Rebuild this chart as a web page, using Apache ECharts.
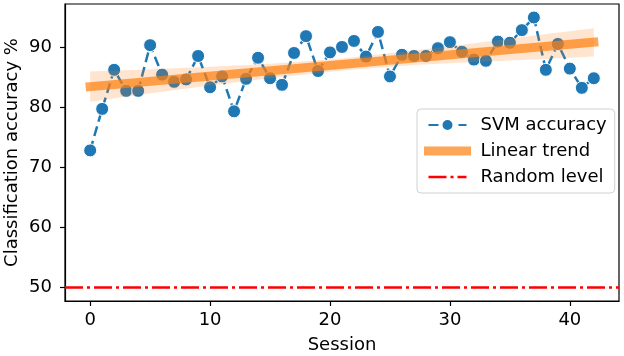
<!DOCTYPE html>
<html>
<head>
<meta charset="utf-8">
<script src="https://cdn.jsdelivr.net/npm/echarts@6/dist/echarts.min.js"></script>
<style>
html, body { margin: 0; padding: 0; background: #fff; }
#chart { width: 624px; height: 356px; }
</style>
</head>
<body>
<div id="chart"></div>
<script>
// values
var accuracy = [72.8, 79.7, 86.2, 82.7, 82.7, 90.3, 85.4, 84.2, 84.6, 88.5,
                83.3, 85.1, 79.3, 84.7, 88.2, 84.8, 83.7, 89.0, 91.8, 86.0,
                89.1, 90.0, 91.0, 88.4, 92.5, 85.1, 88.7, 88.5, 88.5, 89.8,
                90.8, 89.2, 87.9, 87.7, 90.9, 90.7, 92.8, 94.9, 86.2, 90.5,
                86.4, 83.2, 84.8];
var trendX = [0, 42];
var trendY = [83.4, 90.8];
var bandX = [0, 5, 10, 15, 21, 27, 32, 37, 42];
var bandUpper = [85.9, 86.3, 86.7, 87.2, 88.1, 89.4, 90.6, 91.9, 93.1];
var bandLower = [80.9, 82.3, 83.6, 84.8, 86.1, 87.0, 87.5, 87.9, 88.4];
var randomLevel = 50;
var xTicks = [0, 10, 20, 30, 40];
var yTicks = [50, 60, 70, 80, 90];
var xMin = -2.1, xMax = 44.1;
var yMin = 47.755, yMax = 97.145;

var font = 'DejaVu Sans';
var fs = 18;
var chart = echarts.init(document.getElementById('chart'));

var svmData = accuracy.map(function (v, i) { return [i, v]; });
var trendData = trendX.map(function (x, i) { return [x, trendY[i]]; });
var bandData = bandX.map(function (x, i) { return [x, bandLower[i], bandUpper[i]]; });

function renderBand(params, api) {
    if (params.dataIndex !== 0) return;
    var top = [], bottom = [];
    for (var i = 0; i < bandData.length; i++) {
        top.push(api.coord([bandData[i][0], bandData[i][2]]));
        bottom.unshift(api.coord([bandData[i][0], bandData[i][1]]));
    }
    return {
        type: 'polygon',
        shape: { points: top.concat(bottom) },
        style: { fill: 'rgba(255,127,14,0.2)' }
    };
}

var option = {
    animation: false,
    textStyle: { fontFamily: font },
    grid: {
        left: 65, right: 5, top: 4, bottom: 55,
        outerBoundsMode: 'none',
        show: true, borderColor: '#000', borderWidth: 1.2
    },
    xAxis: {
        type: 'value', min: xMin, max: xMax,
        name: 'Session', nameLocation: 'middle', nameGap: 35,
        nameTextStyle: { fontSize: fs, color: '#000', fontFamily: font },
        axisLine: { show: true, onZero: false, lineStyle: { color: '#000', width: 1.2 } },
        axisTick: { show: true, length: 5, customValues: xTicks, lineStyle: { color: '#000', width: 1.2 } },
        axisLabel: { customValues: xTicks, fontSize: fs, color: '#000', margin: 10, fontFamily: font },
        splitLine: { show: false }
    },
    yAxis: {
        type: 'value', min: yMin, max: yMax,
        name: 'Classification accuracy %', nameLocation: 'middle', nameGap: 44,
        nameMoveOverlap: false,
        nameTextStyle: { fontSize: fs, color: '#000', fontFamily: font },
        axisLine: { show: true, onZero: false, lineStyle: { color: '#000', width: 1.2 } },
        axisTick: { show: true, length: 5, customValues: yTicks, lineStyle: { color: '#000', width: 1.2 } },
        axisLabel: { customValues: yTicks, fontSize: fs, color: '#000', margin: 13, fontFamily: font },
        splitLine: { show: false }
    },
    legend: {
        orient: 'vertical',
        left: 417, top: 109,
        padding: [7, 8, 7, 7],
        itemWidth: 38, itemHeight: 15, itemGap: 8,
        backgroundColor: 'rgba(255,255,255,0.8)',
        borderColor: '#d0d0d0', borderWidth: 1, borderRadius: 4,
        textStyle: { fontSize: fs, color: '#000', fontFamily: font, padding: [0, 0, 0, 9] },
        data: [
            { name: 'SVM accuracy' },
            { name: 'Linear trend', lineStyle: { width: 9 }, itemStyle: { opacity: 0 } },
            { name: 'Random level', lineStyle: { width: 2.5 }, itemStyle: { opacity: 0 } }
        ]
    },
    series: [
        {
            name: 'SVM accuracy', type: 'line', z: 2,
            data: svmData,
            symbol: 'circle', symbolSize: 13,
            itemStyle: { color: '#1f77b4', borderColor: '#fff', borderWidth: 1 },
            lineStyle: { color: '#1f77b4', width: 2.5, type: [10, 5] }
        },
        {
            name: 'Linear trend', type: 'line', z: 4,
            data: trendData,
            symbol: 'none',
            itemStyle: { color: 'rgba(255,127,14,0.7)' },
            lineStyle: { color: 'rgba(255,127,14,0.7)', width: 9, cap: 'square' }
        },
        {
            name: 'band', type: 'custom', z: 3,
            renderItem: renderBand,
            data: bandData,
            encode: { x: 0, y: [1, 2] },
            silent: true
        },
        {
            name: 'Random level', type: 'line', z: 5,
            data: [[xMin, randomLevel], [xMax, randomLevel]],
            symbol: 'none',
            itemStyle: { color: '#ff0000' },
            lineStyle: { color: '#ff0000', width: 2.5, type: [18, 4, 3, 4] }
        }
    ]
};

chart.setOption(option);
window.onresize = function () { chart.resize(); };
</script>
</body>
</html>
